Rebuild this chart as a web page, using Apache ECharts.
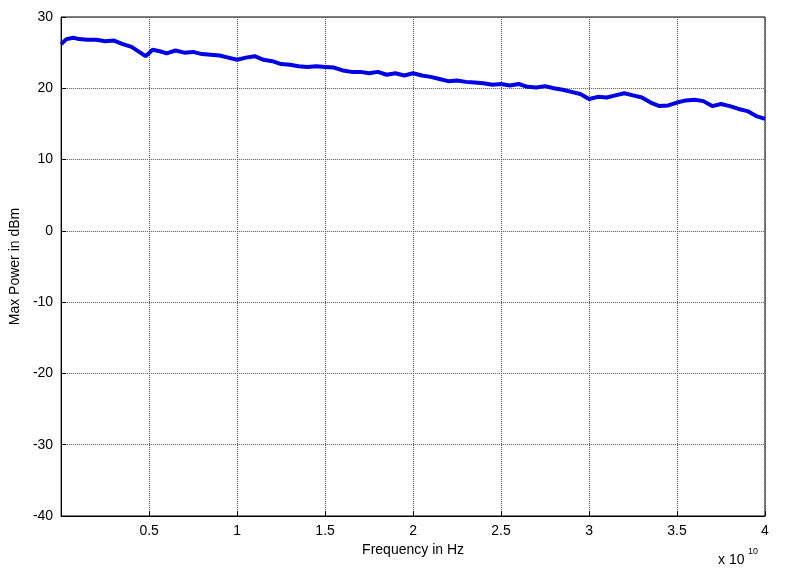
<!DOCTYPE html>
<html>
<head>
<meta charset="utf-8">
<script src="https://cdn.jsdelivr.net/npm/echarts@6/dist/echarts.min.js"></script>
<style>html,body{margin:0;padding:0;background:#fff}#c{width:785px;height:584px}</style>
</head>
<body>
<div id="c"></div>
<script>
// frequency in units of 1e10 Hz
const freq = [0, 0.03, 0.07, 0.1, 0.15, 0.2, 0.25, 0.3, 0.35, 0.4, 0.45, 0.48, 0.52, 0.56, 0.6, 0.65, 0.7, 0.75, 0.8, 0.85, 0.9, 0.95, 1.0, 1.05, 1.1, 1.15, 1.2, 1.25, 1.3, 1.35, 1.4, 1.45, 1.5, 1.55, 1.6, 1.65, 1.7, 1.75, 1.8, 1.85, 1.9, 1.95, 2.0, 2.05, 2.1, 2.15, 2.2, 2.25, 2.3, 2.35, 2.4, 2.45, 2.5, 2.55, 2.6, 2.65, 2.7, 2.75, 2.8, 2.85, 2.9, 2.95, 3.0, 3.05, 3.1, 3.15, 3.2, 3.25, 3.3, 3.35, 3.4, 3.45, 3.5, 3.55, 3.6, 3.65, 3.7, 3.75, 3.8, 3.85, 3.9, 3.95, 4.0];
const power = [26.2, 26.9, 27.1, 26.9, 26.8, 26.8, 26.6, 26.7, 26.2, 25.8, 25.0, 24.5, 25.4, 25.2, 24.9, 25.3, 25.0, 25.1, 24.8, 24.7, 24.6, 24.3, 24.0, 24.3, 24.5, 24.0, 23.8, 23.4, 23.3, 23.1, 23.0, 23.1, 23.0, 22.9, 22.5, 22.3, 22.3, 22.1, 22.3, 21.9, 22.1, 21.8, 22.1, 21.8, 21.6, 21.3, 21.0, 21.1, 20.9, 20.8, 20.7, 20.5, 20.6, 20.4, 20.6, 20.2, 20.1, 20.3, 20.0, 19.8, 19.5, 19.2, 18.5, 18.8, 18.7, 19.0, 19.3, 19.0, 18.7, 18.0, 17.5, 17.6, 18.0, 18.3, 18.4, 18.2, 17.5, 17.8, 17.5, 17.1, 16.8, 16.1, 15.7];
const yTicks = [-40, 30, 10];

const chart = echarts.init(document.getElementById('c'));
const axisFont = { color: '#000', fontFamily: 'Liberation Sans', fontSize: 14 };
const grid = { type: 'dotted', color: '#555', width: 1, dashOffset: 0 };
chart.setOption({
  animation: false,
  grid: { left: 58, right: 20, top: 17, bottom: 68, show: true, borderColor: '#000', borderWidth: 1 },
  xAxis: {
    type: 'value', min: 0, max: 4, interval: 0.5,
    name: 'Frequency in Hz', nameLocation: 'middle', nameGap: 24,
    nameTextStyle: axisFont,
    axisLine: { onZero: false, lineStyle: { color: '#000' } },
    axisTick: { inside: true, length: 5, lineStyle: { color: '#000' } },
    axisLabel: Object.assign({ margin: 8, formatter: v => v === 0 ? '' : String(v) }, axisFont),
    splitLine: { lineStyle: grid }
  },
  yAxis: {
    type: 'value', min: yTicks[0], max: yTicks[1], interval: yTicks[2],
    name: 'Max Power in dBm', nameLocation: 'middle', nameGap: 36,
    nameTextStyle: axisFont,
    axisLine: { onZero: false, lineStyle: { color: '#000' } },
    axisTick: { inside: true, length: 5, lineStyle: { color: '#000' } },
    axisLabel: Object.assign({ margin: 8 }, axisFont),
    splitLine: { lineStyle: grid }
  },
  graphic: [{
    type: 'text', left: 718, top: 553,
    style: { text: 'x 10', font: '14px Liberation Sans', fill: '#000' }
  }, {
    type: 'text', left: 748, top: 547,
    style: { text: '10', font: '9px Liberation Sans', fill: '#000' }
  }],
  series: [{
    type: 'line', showSymbol: false,
    data: freq.map((f, i) => [f, power[i]]),
    lineStyle: { color: '#0000e6', width: 4 }
  }]
});
</script>
</body>
</html>
